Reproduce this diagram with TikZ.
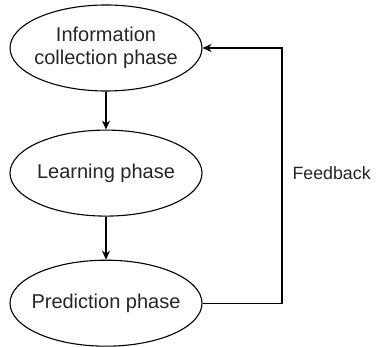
\documentclass[tikz,border=0pt]{standalone}
\usepackage{fontspec}
\setmainfont{Liberation Sans}
\usetikzlibrary{shapes.geometric, positioning, arrows.meta}
\tikzset{
>={Stealth[length=9pt, width=8pt]}, % filled arrow heads
phase/.style={ellipse, draw, line width=1.1pt, minimum width=192pt, minimum height=86pt, inner xsep=-9pt, inner ysep=0pt, align=center, text=black!85, font=\fontsize{20}{23}\selectfont}, % one ellipse per phase
link/.style={->, line width=1.1pt}, % the connectors
}
\begin{document}
\begin{tikzpicture}[x=1pt, y=1pt]
            \useasboundingbox (0,0) rectangle (376,-347);
            \node[phase] (info) at (106,-48) {Information\\collection phase};
            \node[phase, below=38pt of info] (learn) {Learning phase};
            \node[phase, below=43pt of learn] (pred) {Prediction phase};
            \coordinate (fb) at (282,-173);
            \node[right=7pt of fb, text=black!85, font=\fontsize{17.8}{21}\selectfont] (fblabel) {Feedback};
            \draw[link] (info) -- (learn);
            \draw[link] (learn) -- (pred);
            \draw[link] (pred.east) -| (fb) |- (info.east);
        \end{tikzpicture}
\end{document}
